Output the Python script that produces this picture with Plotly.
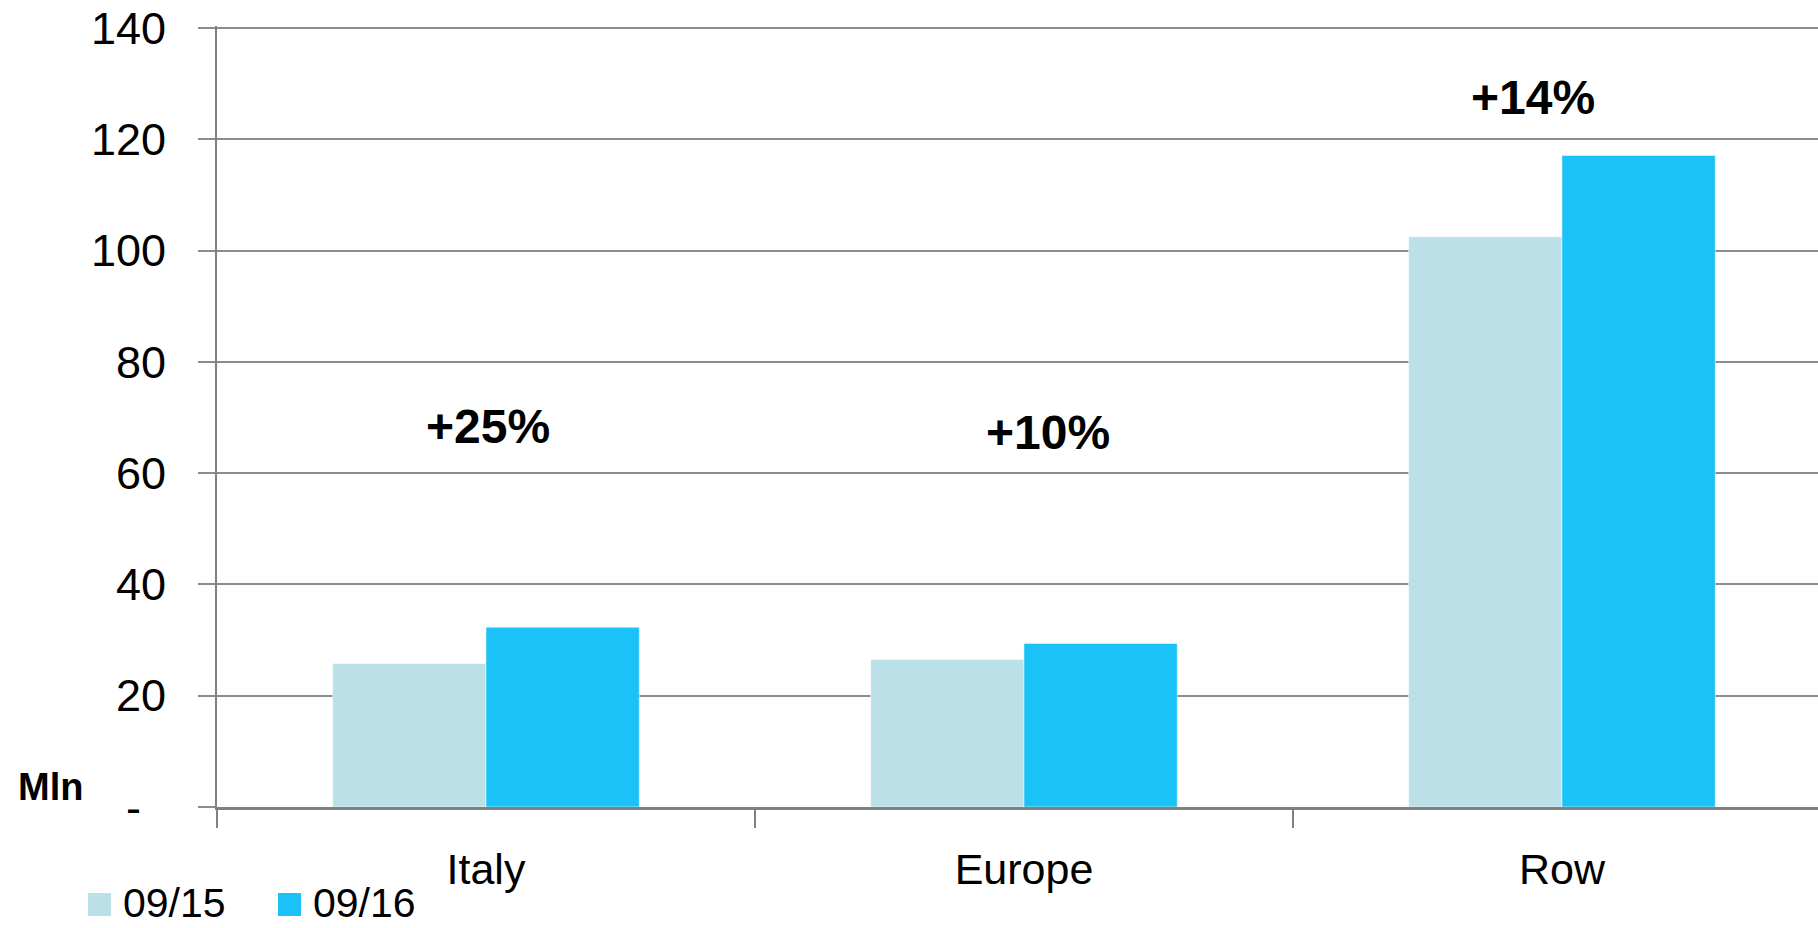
import plotly.graph_objects as go

categories = ["Italy", "Europe", "Row"]
series_names = ["09/15", "09/16"]
values_0915 = [25.8, 26.5, 102.5]
values_0916 = [32.3, 29.4, 117.1]
growth_labels = ["+25%", "+10%", "+14%"]
growth_label_x = [0.004, 1.045, 1.946]
growth_label_y = [68.3, 67.3, 127.5]
y_tickvals = [0, 20, 40, 60, 80, 100, 120, 140]
y_ticktext = ["-\u00a0\u00a0", "20", "40", "60", "80", "100", "120", "140"]

colors = ["#BCE0E8", "#1BC2F7"]
FONT = "Liberation Sans, Arial, sans-serif"

fig = go.Figure()
for name, vals, col in zip(series_names, [values_0915, values_0916], colors):
    fig.add_trace(go.Bar(
        x=categories, y=vals, name=name,
        marker=dict(color=col, line=dict(color="rgba(255,255,255,0.5)", width=1)),
        showlegend=False,
    ))

W, H = 1818, 928
L, R, T, B = 217, 0, 26, 928 - 807
pw, ph = W - L - R, H - T - B
y_top = 140 * ph / (ph - 2)  # keep the 140 gridline just inside the plot area

def px_x(p):
    return (p - L) / pw

def px_y(p):
    return (H - B - p) / ph

for txt, x, y in zip(growth_labels, growth_label_x, growth_label_y):
    fig.add_annotation(x=x, y=y, xref="x", yref="y", text="<b>%s</b>" % txt,
                       xanchor="center", yanchor="middle",
                       showarrow=False, font=dict(family=FONT, size=48, color="black"))

fig.add_annotation(x=px_x(50), y=px_y(787), xref="paper", yref="paper", text="<b>Mln</b>",
                   xanchor="center", yanchor="middle",
                   showarrow=False, font=dict(family=FONT, size=38, color="black"))

# manual legend (large square swatches)
legend_sq = [(88, 111), (278, 301)]
legend_txt_x = [121, 311]
for (x0, x1), tx, name, col in zip(legend_sq, legend_txt_x, series_names, colors):
    fig.add_shape(type="rect", xref="paper", yref="paper",
                  x0=px_x(x0), x1=px_x(x1), y0=px_y(916), y1=px_y(893),
                  fillcolor=col, line=dict(width=0))
    fig.add_annotation(x=px_x(tx), y=px_y(903), xref="paper", yref="paper", text=name,
                       xanchor="left", yanchor="middle", showarrow=False,
                       font=dict(family=FONT, size=41, color="black"))

fig.update_layout(
    width=W, height=H,
    margin=dict(l=L, r=R, t=T, b=B),
    paper_bgcolor="white", plot_bgcolor="white",
    barmode="group", bargap=0.43, bargroupgap=0,
    font=dict(family=FONT, color="black"),
)
fig.update_xaxes(
    range=[-0.5, 2.476], showline=True, linecolor="#808080", linewidth=3,
    tickson="boundaries", ticks="outside", ticklen=18, tickcolor="#808080", tickwidth=2,
    tickfont=dict(family=FONT, size=43, color="black"), ticklabelstandoff=22,
    showgrid=False, zeroline=False,
)
fig.update_yaxes(
    range=[0, y_top], tickvals=y_tickvals, ticktext=y_ticktext,
    showline=True, linecolor="#808080", linewidth=2,
    ticks="outside", ticklen=17, tickcolor="#8c8c8c", tickwidth=2,
    showgrid=True, gridcolor="#8c8c8c", gridwidth=2, zeroline=False,
    tickfont=dict(family=FONT, size=45, color="black"), ticklabelstandoff=23,
    ticklabeloverflow="allow",
)

fig.write_html("out.html", config={"displayModeBar": False},
               post_script="document.body.style.margin='0';document.body.style.overflow='hidden';")
